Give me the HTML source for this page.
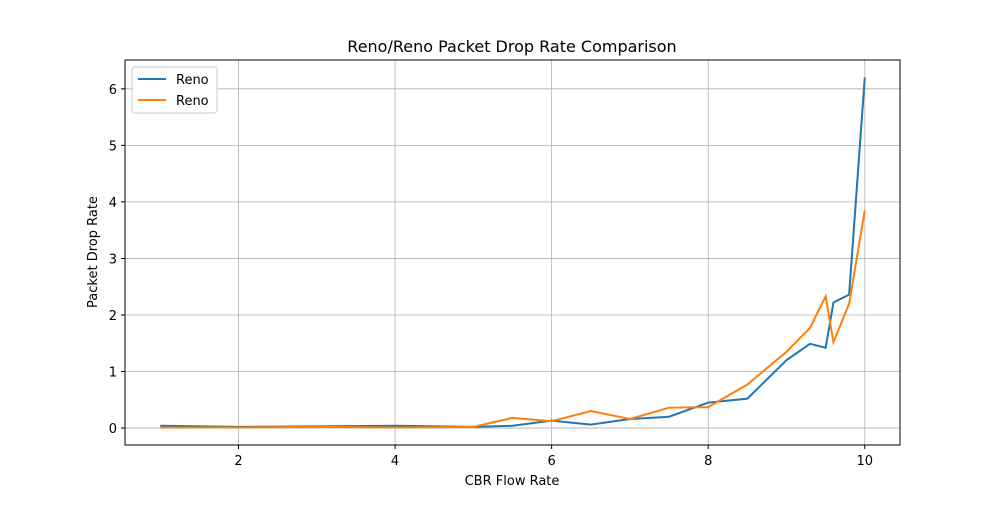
<!DOCTYPE html>
<html><head><meta charset="utf-8"><style>
body{margin:0;background:#fff;font-family:"Liberation Sans","DejaVu Sans",sans-serif}
svg text{font-family:"DejaVu Sans","Liberation Sans",sans-serif}
</style></head><body>
<svg width="1000" height="500" id="c">
<rect width="1000" height="500" fill="#fff"/>
<g id="grid"></g><g id="ticks"></g><g id="lines"></g>
<rect x="125" y="60" width="775" height="385" fill="none" stroke="#000" stroke-width="1"/>
<text x="512" y="52" text-anchor="middle" font-size="16">Reno/Reno Packet Drop Rate Comparison</text>
<text x="512" y="485" text-anchor="middle" font-size="13">CBR Flow Rate</text>
<text x="97" y="252" text-anchor="middle" font-size="13" transform="rotate(-90 97 252)">Packet Drop Rate</text>
<g>
<rect x="132" y="67" width="85" height="46" rx="3" fill="#fff" stroke="#ccc"/>
<g><line x1="138" y1="79" x2="166" y2="79" stroke="#1f77b4" stroke-width="2"/><text x="176" y="84" font-size="13">Reno</text></g>
<g><line x1="138" y1="100" x2="166" y2="100" stroke="#ff7f0e" stroke-width="2"/><text x="176" y="105" font-size="13">Reno</text></g>
</g>
</svg>
<script>
const xs=[1,2,3,4,5,5.5,6,6.5,7,7.5,8,8.5,9,9.3,9.5,9.6,9.8,10];
const reno1=[0.04,0.02,0.03,0.04,0.02,0.04,0.13,0.06,0.16,0.2,0.45,0.52,1.2,1.49,1.42,2.22,2.36,6.2];
const reno2=[0.01,0.01,0.02,0.01,0.02,0.18,0.12,0.3,0.16,0.36,0.37,0.77,1.35,1.77,2.33,1.52,2.2,3.85];
const xTicks=[2,4,6,8,10];
const yTicks=[0,1,2,3,4,5,6];
const X=v=>125+(v-0.55)/(10.45-0.55)*775;
const Y=v=>445-(v+0.3)/(6.51+0.3)*385;
const NS="http://www.w3.org/2000/svg";
const g=document.getElementById('grid'),t=document.getElementById('ticks'),l=document.getElementById('lines');
function mk(tag,a,p){const e=document.createElementNS(NS,tag);for(const k in a)e.setAttribute(k,a[k]);p.appendChild(e);return e;}
xTicks.forEach(v=>{
const gl=mk('line',{x1:X(v),x2:X(v),y1:60,y2:445,stroke:'#b0b0b0','stroke-width':0.8},g);


mk('line',{x1:X(v),x2:X(v),y1:445,y2:449,stroke:'#000'},t);
const tx=mk('text',{x:X(v),y:465,'text-anchor':'middle','font-size':13},t);tx.textContent=v;


});
yTicks.forEach(v=>{
const gl=mk('line',{x1:125,x2:900,y1:Y(v),y2:Y(v),stroke:'#b0b0b0','stroke-width':0.8},g);


mk('line',{x1:121,x2:125,y1:Y(v),y2:Y(v),stroke:'#000'},t);
const tx=mk('text',{x:117,y:Y(v)+5,'text-anchor':'end','font-size':13},t);tx.textContent=v;


});
[[reno1,'#1f77b4','reno-series-1'],[reno2,'#ff7f0e','reno-series-2']].forEach(([d,c,n])=>{
const p=mk('polyline',{points:xs.map((x,i)=>X(x)+','+Y(d[i])).join(' '),fill:'none',stroke:c,'stroke-width':2},l);


});
</script>
</body></html>
